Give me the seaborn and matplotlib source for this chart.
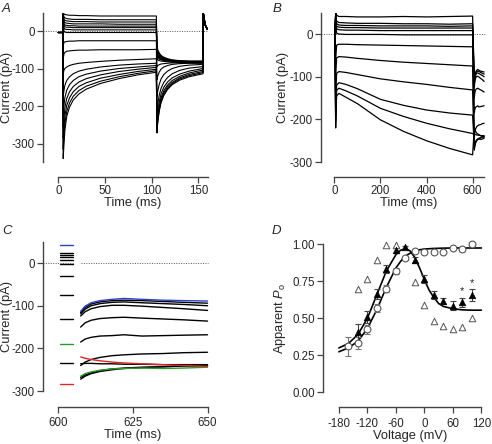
import numpy as np
import pandas as pd
import seaborn as sns
import matplotlib.pyplot as plt

# ---------------- data ----------------
# Panel A: holding, step, tail and end samples for each current trace (pA)
a_hold_t = [0, 4.8]
a_hold_i = -4
a_step_t = [5.2, 6, 7, 9, 12, 16, 22, 30, 45, 65, 85, 105]
a_step_i = [
    [48, 46, 44, 43, 42, 42, 41, 41, 40, 40, 40, 40],
    [47, 38, 35, 33, 32, 31, 31, 31, 30, 30, 30, 30],
    [46, 32, 28, 27, 26, 25, 25, 25, 24, 24, 24, 24],
    [45, 26, 22, 21, 20, 19, 19, 19, 19, 18, 18, 18],
    [44, 20, 16, 15, 14, 14, 13, 13, 13, 13, 13, 13],
    [42, 15, 11, 10, 10, 9, 9, 9, 9, 9, 9, 9],
    [38, 8, 5, 4, 4, 3, 3, 3, 3, 3, 3, 3],
    [30, 0, -3, -4, -4, -4, -4, -4, -4, -4, -4, -4],
    [-40, -31, -29, -28, -27, -27, -26, -26, -26, -26, -26, -26],
    [-75, -62, -57, -54, -53, -52, -51, -51, -50, -50, -50, -49],
    [-115, -105, -100, -96, -92, -89, -86, -84, -81, -78, -76, -74],
    [-175, -160, -145, -132, -122, -114, -107, -102, -96, -91, -88, -86],
    [-220, -200, -178, -158, -143, -132, -122, -115, -107, -100, -96, -92],
    [-255, -235, -205, -180, -162, -148, -136, -127, -117, -108, -102, -97],
    [-285, -262, -228, -199, -178, -162, -148, -138, -126, -116, -108, -102],
    [-315, -285, -248, -215, -192, -174, -159, -147, -134, -122, -113, -106],
    [-340, -305, -265, -228, -203, -184, -168, -155, -140, -127, -117, -110],
]
a_tail_t = [105.6, 106.5, 108, 110, 113, 117, 122, 130, 140, 155]
a_tail_i = [
    [-40, -50, -58, -65, -70, -74, -77, -79, -80, -80],
    [-45, -54, -61, -67, -72, -75, -78, -80, -81, -81],
    [-50, -57, -64, -69, -73, -76, -79, -81, -82, -82],
    [-55, -61, -67, -71, -75, -77, -80, -81, -82, -83],
    [-60, -65, -70, -73, -76, -78, -80, -82, -83, -83],
    [-65, -69, -72, -75, -77, -79, -81, -82, -83, -84],
    [-70, -73, -75, -77, -79, -80, -82, -83, -84, -84],
    [-75, -77, -79, -80, -81, -82, -83, -84, -84, -85],
    [-95, -92, -90, -88, -87, -86, -85, -85, -85, -85],
    [-130, -120, -110, -102, -96, -92, -89, -87, -86, -86],
    [-175, -160, -143, -128, -116, -107, -100, -94, -91, -89],
    [-215, -195, -172, -153, -137, -124, -114, -105, -99, -95],
    [-240, -215, -190, -168, -150, -136, -125, -115, -107, -100],
    [-255, -228, -201, -178, -159, -144, -132, -121, -112, -104],
    [-262, -235, -208, -184, -165, -149, -137, -125, -116, -108],
    [-268, -240, -212, -188, -169, -153, -140, -128, -119, -111],
    [-272, -244, -215, -191, -172, -156, -143, -131, -122, -114],
]
a_end_t = [155.3, 156, 157.5, 159.5]
a_end_i = [48, 35, 15, 5]

# Panels B and C: 600 ms steps and their tails (pA)
b_step_t = [6, 10, 20, 50, 100, 200, 300, 400, 500, 600]
b_step_i = [
    [50, 44, 41, 41, 40, 40, 41, 40, 41, 42],
    [48, 30, 27, 26, 25, 25, 24, 24, 23, 24],
    [46, 24, 21, 20, 20, 19, 19, 19, 18, 19],
    [44, 18, 16, 15, 15, 14, 14, 14, 14, 14],
    [42, 12, 10, 9, 9, 8, 8, 8, 8, 8],
    [30, 2, 0, -1, -1, -1, -2, -2, -2, -2],
    [-60, -26, -24, -24, -25, -26, -27, -28, -29, -30],
    [-100, -56, -53, -54, -57, -62, -66, -69, -72, -75],
    [-150, -92, -88, -90, -95, -105, -112, -118, -125, -131],
    [-190, -120, -114, -118, -128, -153, -167, -178, -185, -190],
    [-205, -132, -127, -133, -145, -174, -193, -209, -222, -233],
    [-220, -145, -139, -148, -163, -201, -228, -250, -268, -283],
]
c_tail_t = [607.5, 609, 611, 614, 618, 622, 628, 635, 642, 650]
c_tail_i = [
    [-113, -101, -93, -88, -85, -83, -85, -87, -88, -89],
    [-116, -104, -96, -91, -88, -87, -88, -90, -92, -94],
    [-119, -108, -100, -95, -92, -91, -93, -95, -97, -100],
    [-124, -114, -107, -102, -99, -99, -101, -104, -107, -111],
    [-150, -140, -134, -130, -128, -127, -129, -131, -133, -136],
    [-185, -178, -174, -171, -170, -168, -171, -170, -169, -168],
    [-240, -232, -226, -221, -217, -215, -213, -212, -210, -209],
    [-268, -262, -257, -252, -248, -246, -244, -243, -241, -240],
    [-272, -265, -259, -254, -250, -247, -245, -243, -241, -240],
    [-265, -259, -255, -251, -248, -247, -246, -247, -246, -244],
    [-236, -235, -235, -236, -236, -237, -237, -238, -238, -238],
    [-220, -223, -226, -229, -232, -234, -236, -238, -240, -242],
]
c_stub_t = [600.5, 605]
c_colors = ['#2b3fd0', 'black', 'black', 'black', 'black', 'black', 'black',
            'black', 'black', '#2a9a2a', 'black', '#e02424']

# Panel D: apparent Po vs voltage
d_v = [-160, -140, -120, -100, -80, -60, -40, -20, 0, 20, 40, 60, 80, 100]
d_circ = [0.31, 0.335, 0.425, 0.57, 0.70, 0.82, 0.905, 0.957, 0.946, 0.946, 0.946, 0.975, 0.966, 1.0]
d_circ_err = [0.065, 0.04, 0.03, 0.03, 0.025, 0.02, 0.01, 0.0, 0.0, 0.0, 0.0, 0.0, 0.01, 0.0]
d_tri_v = [-140, -120, -100, -80, -60, -40, -20, 0, 20, 40, 60, 80, 100]
d_tri = [0.405, 0.51, 0.664, 0.833, 0.961, 0.98, 0.894, 0.765, 0.657, 0.615, 0.585, 0.608, 0.657]
d_tri_err = [0.06, 0.04, 0.035, 0.03, 0.02, 0.01, 0.02, 0.025, 0.025, 0.02, 0.03, 0.03, 0.04]
d_star_v = [80, 100]
d_otri_v = [-140, -120, -100, -80, -60, -20, 0, 20, 40, 60, 80, 100]
d_otri = [0.70, 0.765, 0.894, 0.995, 0.995, 0.743, 0.59, 0.48, 0.448, 0.43, 0.44, 0.504]
d_fit_v = [-180, -160, -140, -120, -100, -80, -60, -50, -40, -30, -20, -10, 0, 10, 20, 30, 40, 60, 80, 100, 120]
d_fit_circ = [0.274, 0.30, 0.345, 0.43, 0.56, 0.71, 0.84, 0.885, 0.92, 0.94, 0.955, 0.963, 0.968, 0.97, 0.972, 0.973, 0.974, 0.975, 0.975, 0.975, 0.975]
d_fit_tri = [0.30, 0.33, 0.39, 0.50, 0.66, 0.82, 0.93, 0.96, 0.97, 0.955, 0.91, 0.84, 0.76, 0.69, 0.64, 0.60, 0.58, 0.565, 0.557, 0.555, 0.555]

# ---------------- style ----------------
sns.set_style('ticks')
plt.rcParams['font.family'] = ['Liberation Sans', 'DejaVu Sans']
plt.rcParams['axes.unicode_minus'] = False
plt.rcParams['mathtext.fontset'] = 'custom'
plt.rcParams['mathtext.rm'] = 'Liberation Sans'
plt.rcParams['mathtext.it'] = 'Liberation Sans:italic'

W, H = 492, 444
fig = plt.figure(figsize=(W / 100, H / 100), dpi=100)


def place(left, right, top, bottom):
    return fig.add_axes([left / W, 1 - bottom / H, (right - left) / W, (bottom - top) / H])


def style(ax, xb, yb, xt, yt, xl, yl, xlab_pos, ylab_pos, xpad=2):
    ax.set_facecolor('white')
    for s in ['top', 'right']:
        ax.spines[s].set_visible(False)
    for s in ['left', 'bottom']:
        ax.spines[s].set_color('#444444')
        ax.spines[s].set_linewidth(1.0)
    ax.spines['left'].set_bounds(*yb)
    ax.spines['bottom'].set_bounds(*xb)
    ax.set_xticks(xt)
    ax.set_yticks(yt)
    ax.tick_params(length=4, width=0.9, color='#444444', labelsize=8.3, pad=2)
    ax.tick_params(axis='x', pad=xpad)
    ax.set_xlabel(xl, fontsize=9.3)
    ax.set_ylabel(yl, fontsize=9.3)
    # label positions in figure pixels (label centred on the spine extent)
    ax.xaxis.set_label_coords(xlab_pos[0] / W, 1 - xlab_pos[1] / H, transform=fig.transFigure)
    ax.yaxis.set_label_coords(ylab_pos[0] / W, 1 - ylab_pos[1] / H, transform=fig.transFigure)


def long_df(t_parts, rows):
    recs = []
    for k, r in enumerate(rows):
        for t, i in zip(t_parts, r):
            recs.append((k, t, i))
    return pd.DataFrame(recs, columns=['trace', 't', 'I'])


# ---------------- panel A ----------------
axA = place(43, 212, 13, 177)
tA = a_hold_t + a_step_t + a_tail_t + a_end_t
rowsA = [[a_hold_i] * len(a_hold_t) + s + tl + a_end_i for s, tl in zip(a_step_i, a_tail_i)]
dfA = long_df(tA, rowsA)
axA.axhline(0, xmin=0, xmax=(160 + 16.4) / (164.6 + 16.4), color='#555555', ls=(0, (1, 1.5)), lw=0.7)
sns.lineplot(data=dfA, x='t', y='I', units='trace', estimator=None, color='black',
             lw=0.8, sort=False, legend=False, ax=axA)
axA.set_xlim(-16.4, 164.6)
axA.set_ylim(-389.3, 48)
style(axA, (0, 160), (-350, 48), [0, 50, 100, 150], [0, -100, -200, -300], 'Time (ms)', 'Current (pA)',
      (133, 197), (13, 87.5))

# ---------------- panel B ----------------
axB = place(321, 488, 12.7, 177)
tB = [2] + b_step_t + c_tail_t
rowsB = [[0] + s + tl for s, tl in zip(b_step_i, c_tail_i)]
dfB = long_df(tB, rowsB)
axB.axhline(0, xmin=0, xmax=0.985, color='#555555', ls=(0, (1, 1.5)), lw=0.7)
sns.lineplot(data=dfB, x='t', y='I', units='trace', estimator=None, color='black',
             lw=0.9, sort=False, legend=False, ax=axB)
axB.set_xlim(-57.7, 666.8)
axB.set_ylim(-334.9, 49.9)
style(axB, (0, 650), (-300, 50), [0, 200, 400, 600], [0, -100, -200, -300], 'Time (ms)', 'Current (pA)',
      (409, 197), (289, 87.3))

# ---------------- panel C ----------------
axC = place(43.3, 212, 241.7, 406.7)
axC.hlines([0, 0], [595, c_tail_t[0]], [c_stub_t[-1], 650], color='#555555', ls=(0, (1, 1.5)), lw=0.7)
order = [k for k, c in enumerate(c_colors) if c == 'black'] + [k for k, c in enumerate(c_colors) if c != 'black']
for k in order:
    end = b_step_i[k][-1]
    stub = pd.DataFrame({'t': c_stub_t, 'I': [end, end]})
    tail = pd.DataFrame({'t': c_tail_t, 'I': c_tail_i[k]})
    for d in (stub, tail):
        sns.lineplot(data=d, x='t', y='I', color=c_colors[k], lw=1.0, estimator=None,
                     sort=False, legend=False, ax=axC)
axC.set_xlim(594.98, 651.5)
axC.set_ylim(-336.5, 50)
style(axC, (600, 650), (-300, 50), [600, 625, 650], [0, -100, -200, -300], 'Time (ms)', 'Current (pA)',
      (133, 429), (13, 316), xpad=3.5)

# ---------------- panel D ----------------
axD = place(323.3, 488, 240, 407.3)
sns.lineplot(x=d_fit_v, y=d_fit_circ, color='black', lw=1.2, ax=axD, estimator=None)
sns.lineplot(x=d_fit_v, y=d_fit_tri, color='black', lw=1.2, ax=axD, estimator=None)
axD.errorbar(d_v, d_circ, yerr=d_circ_err, fmt='none', ecolor='#777777', elinewidth=0.8, capsize=2.2, capthick=0.8)
axD.errorbar(d_tri_v, d_tri, yerr=d_tri_err, fmt='none', ecolor='#444444', elinewidth=0.8, capsize=2.2, capthick=0.8)
sns.scatterplot(x=d_v, y=d_circ, marker='o', s=24, facecolor='white', edgecolor='#555555', linewidth=0.8, ax=axD, zorder=3, clip_on=False)
sns.scatterplot(x=d_otri_v, y=d_otri, marker='^', s=22, facecolor='white', edgecolor='#555555', linewidth=0.7, ax=axD, zorder=3, clip_on=False)
sns.scatterplot(x=d_tri_v, y=d_tri, marker='^', s=22, color='black', edgecolor='black', linewidth=0.5, ax=axD, zorder=4, clip_on=False)
for v in d_star_v:
    k = d_tri_v.index(v)
    axD.text(v, d_tri[k] + d_tri_err[k] + 0.01, '*', ha='center', va='bottom', fontsize=8)
axD.set_xlim(-212.8, 133.9)
axD.set_ylim(-0.101, 1.029)
style(axD, (-180, 120), (0, 1.0), [-180, -120, -60, 0, 60, 120], [0, 0.25, 0.5, 0.75, 1.0],
      'Voltage (mV)', 'Apparent $\\mathit{P}_\\mathrm{o}$', (409.7, 430), (288, 318), xpad=3.5)
axD.set_yticklabels(['0.00', '0.25', '0.50', '0.75', '1.00'])

# panel letters
for lab, x, y in [('A', 2, 3), ('B', 273, 3), ('C', 2, 225), ('D', 272, 225)]:
    fig.text(x / W, 1 - y / H, lab, fontsize=9.5, style='italic', va='top', ha='left')

fig.savefig('out.png', dpi=100, facecolor='white')
